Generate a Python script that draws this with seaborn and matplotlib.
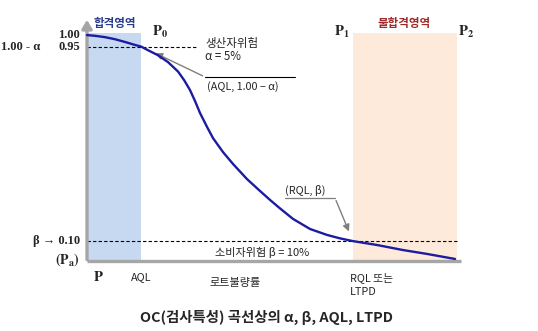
import matplotlib
matplotlib.use("Agg")
import matplotlib.pyplot as plt
import seaborn as sns
import pandas as pd

# ---------------- data (schematic OC curve) ----------------
lot_defect = [0.00, 2.14, 4.81, 7.49, 10.16, 12.83, 14.44, 16.31, 18.98, 21.66,
              24.33, 25.94, 27.54, 28.88, 30.21, 32.09, 33.69, 36.36, 39.04,
              42.78, 46.26, 48.93, 51.60, 55.08, 59.63, 64.17, 67.65, 71.12,
              77.54, 84.49, 90.91, 98.40]
pa = [1.000, 0.997, 0.991, 0.982, 0.970, 0.957, 0.950, 0.934, 0.912, 0.882,
      0.841, 0.804, 0.760, 0.712, 0.660, 0.599, 0.550, 0.489, 0.437,
      0.371, 0.319, 0.280, 0.243, 0.197, 0.153, 0.127, 0.112, 0.100,
      0.083, 0.061, 0.044, 0.022]
AQL = 14.4
RQL = 71.1
P2 = 98.9
ALPHA_LEVEL = 0.95
BETA_LEVEL = 0.10
REGION_TOP = 1.009
AXIS_BOTTOM = 0.013

df = pd.DataFrame({"x": lot_defect, "pa": pa})

sns.set_style("white")
plt.rcParams["font.family"] = ["Noto Sans CJK KR", "DejaVu Sans"]
plt.rcParams["mathtext.fontset"] = "stix"

W, H = 538, 331
fig = plt.figure(figsize=(W / 100, H / 100), dpi=100)
ax = fig.add_axes([0, 0, 1, 1])
XS, YS = 3.74, 228.9


def X(px):
    return (px - 87) / XS


def Y(py):
    return (264 - py) / YS


KR = ["Noto Sans CJK KR", "DejaVu Sans"]
SERIF = ["Liberation Serif", "DejaVu Serif"]

# regions
ax.fill_between([0, AQL], AXIS_BOTTOM, REGION_TOP, color="#c6d9f0", lw=0, zorder=0)
ax.fill_between([RQL, P2], AXIS_BOTTOM, REGION_TOP, color="#fdeada", lw=0, zorder=0)

# dashed reference lines
ax.plot([0, X(198)], [ALPHA_LEVEL, ALPHA_LEVEL], color="black", lw=0.8,
        dashes=(3, 2), zorder=2)
ax.plot([0, P2], [BETA_LEVEL, BETA_LEVEL], color="black", lw=0.8,
        dashes=(3, 2), zorder=2)

# axes (gray)
ax.plot([0, X(461)], [AXIS_BOTTOM, AXIS_BOTTOM], color="#a6a6a6", lw=2.4,
        solid_capstyle="butt", zorder=3)
ax.annotate("", xy=(0, Y(17)), xytext=(0, AXIS_BOTTOM - 0.006),
            arrowprops=dict(arrowstyle="-|>,head_length=0.5,head_width=0.3",
                            color="#a6a6a6", lw=2.4), zorder=3)

# OC curve
sns.lineplot(data=df, x="x", y="pa", color="#1c1ca0", lw=1.7, ax=ax, zorder=4)
ax.set_xlim(-87 / XS, (W - 87) / XS)
ax.set_ylim((264 - H) / YS, 264 / YS)
ax.axis("off")

# annotation leaders
g = "#7f7f7f"
ax.plot([X(205), X(295)], [Y(77), Y(77)], color="black", lw=0.8)
ax.annotate("", xy=(X(153), Y(52)), xytext=(X(205), Y(77)),
            arrowprops=dict(arrowstyle="-|>,head_length=0.4,head_width=0.2",
                            color=g, lw=1.0))
ax.plot([X(285), X(335)], [Y(198), Y(198)], color=g, lw=0.9)
ax.annotate("", xy=(X(350), Y(234)), xytext=(X(335), Y(198)),
            arrowprops=dict(arrowstyle="-|>,head_length=0.4,head_width=0.2",
                            color=g, lw=1.0))

# text
ax.text(X(115), Y(24), "합격영역", family=KR, fontsize=8.3, color="#283c8c",
        ha="center", va="center", fontweight="bold")
ax.text(X(404), Y(23), "불합격영역", family=KR, fontsize=8.3, color="#9e2b2b",
        ha="center", va="center", fontweight="bold")
ax.text(X(152), Y(32), r"$\mathbf{P}_{\mathbf{0}}$", fontsize=10.5, ha="left", va="center")
ax.text(X(334), Y(32), r"$\mathbf{P}_{\mathbf{1}}$", fontsize=10.5, ha="left", va="center")
ax.text(X(458), Y(32), r"$\mathbf{P}_{\mathbf{2}}$", fontsize=10.5, ha="left", va="center")

ax.text(X(80), 1.0, "1.00", family=SERIF, fontsize=9, fontweight="bold",
        ha="right", va="center")
ax.text(X(80), ALPHA_LEVEL, "0.95", family=SERIF, fontsize=9, fontweight="bold",
        ha="right", va="center")
ax.text(X(1), ALPHA_LEVEL, "1.00 - α", family=SERIF, fontsize=9, fontweight="bold",
        ha="left", va="center")
ax.text(X(80), BETA_LEVEL, "β → 0.10", family=SERIF, fontsize=9, fontweight="bold",
        ha="right", va="center")
ax.text(X(80), Y(260), r"$\mathbf{(P_a)}$", fontsize=10, ha="right", va="center")

ax.text(X(93), Y(277), r"$\mathbf{P}$", fontsize=10.5, ha="left", va="center")
ax.text(AQL, Y(277), "AQL", family=KR, fontsize=7.8, ha="center", va="center")
ax.text(X(235), Y(283), "로트불량률", family=KR, fontsize=8, ha="center", va="center")
ax.text(X(350), Y(278), "RQL 또는", family=KR, fontsize=7.8, ha="left", va="center")
ax.text(X(350), Y(292), "LTPD", family=KR, fontsize=7.8, ha="left", va="center")

ax.text(X(205), Y(43), "생산자위험", family=KR, fontsize=8.3, ha="left", va="center")
ax.text(X(205), Y(57), "α = 5%", family=KR, fontsize=8.3, ha="left", va="center")
ax.text(X(207), Y(87), "(AQL, 1.00 − α)", family=KR, fontsize=7.8, ha="left", va="center")
ax.text(X(285), Y(190), "(RQL, β)", family=KR, fontsize=7.8, ha="left", va="center")
ax.text(X(215), Y(252), "소비자위험 β = 10%", family=KR, fontsize=8, ha="left", va="center")

ax.text(X(267), Y(317), "OC(검사특성) 곡선상의 α, β, AQL, LTPD", family=KR,
        fontsize=10.4, ha="center", va="center", fontweight="bold")

fig.savefig("out.png", dpi=100)
